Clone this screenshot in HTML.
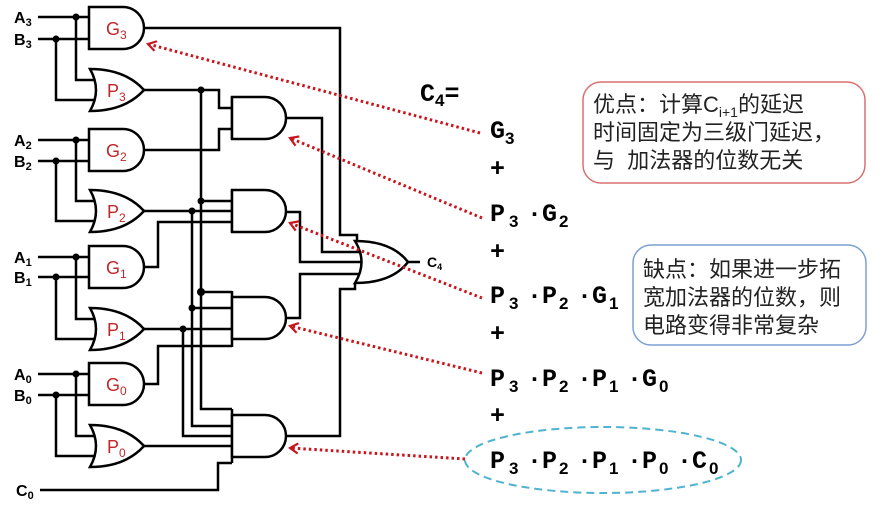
<!DOCTYPE html>
<html><head><meta charset="utf-8"><style>
html,body{margin:0;padding:0;background:#fff;width:884px;height:522px;overflow:hidden}
svg{display:block}
.w{fill:none;stroke:#000;stroke-width:2.5}
.g{fill:#fff;stroke:#000;stroke-width:2.5}
.gl{font-family:"Liberation Sans",sans-serif;fill:#c0282b;font-size:18px}
.gs{font-family:"Liberation Sans",sans-serif;fill:#c0282b;font-size:12px}
.lb{font-family:"Liberation Sans",sans-serif;font-weight:bold;font-size:16px}
.ls{font-family:"Liberation Sans",sans-serif;font-weight:bold;font-size:11px}
.m{font-family:"Liberation Mono",monospace;font-weight:bold;font-size:25px}
.ms{font-family:"Liberation Sans",sans-serif;font-size:17px}
.d{fill:none;stroke:#c8161d;stroke-width:3;stroke-dasharray:2.5 3}
.cn{font-family:"Liberation Sans","Noto Sans CJK SC",sans-serif;font-size:22px;fill:#222}
</style></head><body>
<svg width="884" height="522" viewBox="0 0 884 522">
<defs>
<marker id="ah" markerWidth="14" markerHeight="14" refX="10" refY="7" orient="auto" markerUnits="userSpaceOnUse">
<path d="M2,2 L10,7 L2,12" fill="none" stroke="#c8161d" stroke-width="2.2"/>
</marker>
</defs>

<path class="w" d="M38,17H89 M38,39H89 M76,17V80H96 M56,39V100H96"/>
<path class="w" d="M38,140H89 M38,161H89 M76,140V201H96 M56,161V221H96"/>
<path class="w" d="M38,257H89 M38,277H89 M76,257V319H96 M56,277V339H96"/>
<path class="w" d="M38,374H89 M38,395H89 M76,374V436H96 M56,395V456H96"/>
<g fill="#000">
<circle cx="76" cy="17" r="3.5"/><circle cx="56" cy="39" r="3.5"/>
<circle cx="76" cy="140" r="3.5"/><circle cx="56" cy="161" r="3.5"/>
<circle cx="76" cy="257" r="3.5"/><circle cx="56" cy="277" r="3.5"/>
<circle cx="76" cy="374" r="3.5"/><circle cx="56" cy="395" r="3.5"/>
</g>

<path class="w" d="M144,28H340V235H357V243"/>
<path class="w" d="M144,90H219V108H232"/>
<path class="w" d="M144,150H219V129H232"/>
<path class="w" d="M201,90V409H232 M201,201H232 M201,292H232"/>
<path class="w" d="M144,211H232 M192,211V426H232 M192,308H232"/>
<path class="w" d="M144,267H158V222H232"/>
<path class="w" d="M144,329H232 M183,329V436H232"/>
<path class="w" d="M144,384H158V346H232"/>
<path class="w" d="M144,446H232"/>
<path class="w" d="M40,490H218V463H232"/>
<path class="w" d="M232,97V139 M232,190V232 M232,291V347 M232,409V463"/>
<path class="w" d="M286,118H322V252H362"/>
<path class="w" d="M286,212H300V262H362"/>
<path class="w" d="M286,318H300V274H360"/>
<path class="w" d="M286,436H340V289H355V283"/>
<path class="w" d="M408,262H420"/>
<g fill="#000">
<circle cx="201" cy="90" r="3.5"/><circle cx="201" cy="201" r="3.5"/><circle cx="201" cy="292" r="4"/>
<circle cx="192" cy="211" r="3.5"/><circle cx="192" cy="308" r="3.5"/><circle cx="183" cy="329" r="3.5"/>
</g>

<path class="g" d="M89,7H123A21,21 0 0 1 123,49H89Z"/>
<path class="g" d="M89,129H123A21,21 0 0 1 123,171H89Z"/>
<path class="g" d="M89,246H123A21,21 0 0 1 123,288H89Z"/>
<path class="g" d="M89,363H123A21,21 0 0 1 123,405H89Z"/>
<path class="g" d="M90,69Q125,69 144,90Q125,111 90,111Q102,90 90,69Z"/>
<path class="g" d="M90,190Q125,190 144,211Q125,232 90,232Q102,211 90,190Z"/>
<path class="g" d="M90,308Q125,308 144,329Q125,350 90,350Q102,329 90,308Z"/>
<path class="g" d="M90,425Q125,425 144,446Q125,467 90,467Q102,446 90,425Z"/>
<path class="g" d="M232,97H265A21,21 0 0 1 265,139H232Z"/>
<path class="g" d="M232,190H265A21,21 0 0 1 265,232H232Z"/>
<path class="g" d="M232,297H265A21,21 0 0 1 265,339H232Z"/>
<path class="g" d="M232,415H265A21,21 0 0 1 265,457H232Z"/>
<path class="g" d="M355,241Q392,241 408,262Q392,283 355,283Q368,262 355,241Z"/>

<text class="gl" x="106" y="35">G<tspan class="gs" dy="4">3</tspan></text>
<text class="gl" x="106" y="157">G<tspan class="gs" dy="4">2</tspan></text>
<text class="gl" x="106" y="274">G<tspan class="gs" dy="4">1</tspan></text>
<text class="gl" x="106" y="391">G<tspan class="gs" dy="4">0</tspan></text>
<text class="gl" x="107" y="97">P<tspan class="gs" dy="4">3</tspan></text>
<text class="gl" x="107" y="218">P<tspan class="gs" dy="4">2</tspan></text>
<text class="gl" x="107" y="336">P<tspan class="gs" dy="4">1</tspan></text>
<text class="gl" x="107" y="453">P<tspan class="gs" dy="4">0</tspan></text>

<text class="lb" x="14" y="23">A<tspan class="ls" dy="3">3</tspan></text>
<text class="lb" x="14" y="45">B<tspan class="ls" dy="3">3</tspan></text>
<text class="lb" x="14" y="146">A<tspan class="ls" dy="3">2</tspan></text>
<text class="lb" x="14" y="167">B<tspan class="ls" dy="3">2</tspan></text>
<text class="lb" x="14" y="263">A<tspan class="ls" dy="3">1</tspan></text>
<text class="lb" x="14" y="283">B<tspan class="ls" dy="3">1</tspan></text>
<text class="lb" x="14" y="380">A<tspan class="ls" dy="3">0</tspan></text>
<text class="lb" x="14" y="401">B<tspan class="ls" dy="3">0</tspan></text>
<text class="lb" x="16" y="496">C<tspan class="ls" dy="3">0</tspan></text>
<text class="lb" x="427" y="267" style="font-size:14px">C<tspan class="ls" dy="3" style="font-size:9px">4</tspan></text>

<text class="m" x="420" y="101">C<tspan class="ms" dy="5">4</tspan><tspan dy="-5">=</tspan></text>
<text class="m" x="490" y="138">G<tspan class="ms" dy="6">3</tspan></text>
<text class="m" x="490" y="176">+</text>
<text class="m" y="221"><tspan x="490">P</tspan><tspan class="ms" x="509" dy="6">3</tspan><tspan x="527" dy="-6">·G</tspan><tspan class="ms" x="559" dy="6">2</tspan></text>
<text class="m" x="490" y="259">+</text>
<text class="m" y="303"><tspan x="490">P</tspan><tspan class="ms" x="509" dy="6">3</tspan><tspan x="527" dy="-6">·P</tspan><tspan class="ms" x="559" dy="6">2</tspan><tspan x="577" dy="-6">·G</tspan><tspan class="ms" x="609" dy="6">1</tspan></text>
<text class="m" x="490" y="341">+</text>
<text class="m" y="386"><tspan x="490">P</tspan><tspan class="ms" x="509" dy="6">3</tspan><tspan x="527" dy="-6">·P</tspan><tspan class="ms" x="559" dy="6">2</tspan><tspan x="577" dy="-6">·P</tspan><tspan class="ms" x="609" dy="6">1</tspan><tspan x="627" dy="-6">·G</tspan><tspan class="ms" x="659" dy="6">0</tspan></text>
<text class="m" x="490" y="423">+</text>
<text class="m" y="468"><tspan x="490">P</tspan><tspan class="ms" x="509" dy="6">3</tspan><tspan x="527" dy="-6">·P</tspan><tspan class="ms" x="559" dy="6">2</tspan><tspan x="577" dy="-6">·P</tspan><tspan class="ms" x="609" dy="6">1</tspan><tspan x="627" dy="-6">·P</tspan><tspan class="ms" x="659" dy="6">0</tspan><tspan x="677" dy="-6">·C</tspan><tspan class="ms" x="709" dy="6">0</tspan></text>
<ellipse cx="603" cy="460" rx="138" ry="33" fill="none" stroke="#4fb3d0" stroke-width="2" stroke-dasharray="8 5"/>

<path class="d" d="M480,133L148,44" marker-end="url(#ah)"/>
<path class="d" d="M482,218L290,138" marker-end="url(#ah)"/>
<path class="d" d="M482,298L290,223" marker-end="url(#ah)"/>
<path class="d" d="M482,373L290,326" marker-end="url(#ah)"/>
<path class="d" d="M465,459L290,448" marker-end="url(#ah)"/>

<rect x="583" y="82" width="282" height="101" rx="18" fill="#fff" stroke="#d87070" stroke-width="1.5"/>
<text class="cn" x="593" y="112">优点：计算C<tspan style="font-size:14px" dy="5">i+1</tspan><tspan dy="-5">的延迟</tspan></text>
<text class="cn" x="593" y="140">时间固定为三级门延迟，</text>
<text class="cn" x="593" y="168">与&#160;&#160;加法器的位数无关</text>
<rect x="633" y="245" width="233" height="100" rx="18" fill="#fff" stroke="#7ba0d4" stroke-width="1.5"/>
<text class="cn" x="643" y="277">缺点：如果进一步拓</text>
<text class="cn" x="643" y="305">宽加法器的位数，则</text>
<text class="cn" x="643" y="333">电路变得非常复杂</text>
</svg>
</body></html>
